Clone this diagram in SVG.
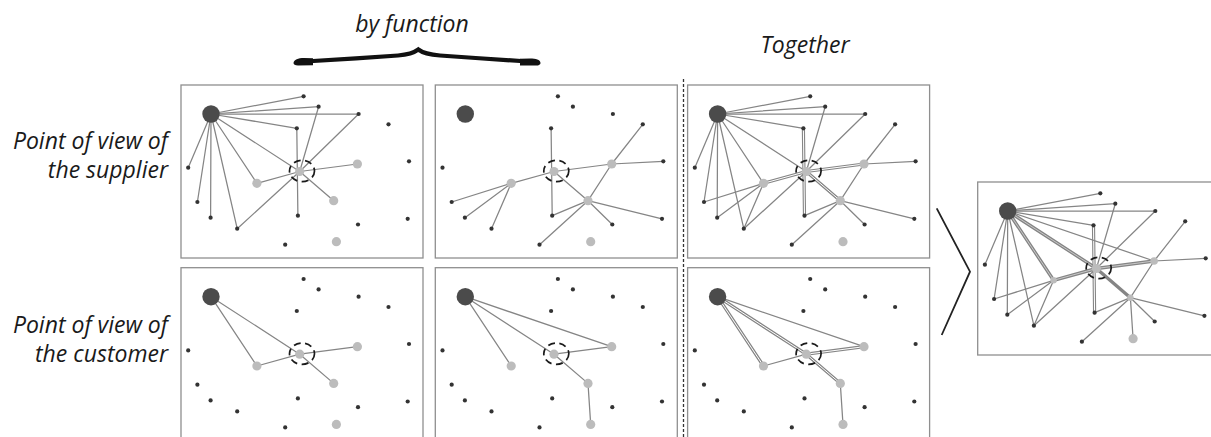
<svg xmlns="http://www.w3.org/2000/svg" width="1211" height="437" viewBox="0 0 1211 437">
<style>
.frame{fill:#fff;stroke:#8f8f8f;stroke-width:1.3}
.edges line{stroke:#858585;stroke-width:1.25;stroke-linecap:round}
.edges .dbl line{stroke:#858585;stroke-width:3.2}
.edges .dblw line{stroke:#fff;stroke-width:1}
.edges .thk line{stroke:#858585;stroke-width:3.4}
.edges .thkw line{stroke:#c8c8c8;stroke-width:1}
.big{fill:#4b4b4b}
.dot{fill:#333}
.lit{fill:#bcbcbc}
.ring{fill:none;stroke:#1a1a1a;stroke-width:1.7;stroke-dasharray:7 4.5}
.lbl{font-family:"Open Sans","Liberation Sans",sans-serif;font-style:italic;font-size:23px;fill:#1a1a1a}
.chev{fill:none;stroke:#222;stroke-width:1.8}
</style>
<rect width="1211" height="437" fill="#fff"/>

<g id="labels">
<text class="lbl" x="412" y="32" text-anchor="middle">by function</text>
<text class="lbl" x="805" y="53" text-anchor="middle">Together</text>
<text class="lbl" x="168" y="149" text-anchor="end">Point of view of</text>
<text class="lbl" x="168" y="178" text-anchor="end">the supplier</text>
<text class="lbl" x="168" y="332.5" text-anchor="end">Point of view of</text>
<text class="lbl" x="168" y="362" text-anchor="end">the customer</text>
</g>

<g id="brace">
<path d="M305,61.5 C330,60 370,57.5 398,55.5 C410,54.5 415,52 418.3,49.5 C421.5,52 427,54.5 440,55.5 C468,57.5 505,60 528,61.5" fill="none" stroke="#111" stroke-width="4.2" stroke-linecap="round"/>
<path d="M293.5,63 C294,59.5 298,58 304,58 L313,58.3 L313,65.3 L298,65.5 C295,65.5 293.5,64.5 293.5,63 Z" fill="#111"/>
<path d="M540.5,63 C540,59.5 536,58.5 530,58.5 L520,58.8 L520,65.5 L536,65.6 C539,65.6 540.5,64.5 540.5,63 Z" fill="#111"/>
</g>

<line id="divider" x1="683.5" y1="79" x2="683.5" y2="437" stroke="#333" stroke-width="1.3" stroke-dasharray="3 2"/>
<polyline id="chevron" class="chev" points="936.7,208.3 970,271.7 941.7,335"/>

<!-- Panel A: supplier, function 1 -->
<g id="panel-A">
<rect class="frame" x="181" y="85" width="242" height="173"/>
<g id="A-edges" class="edges">
<line x1="211" y1="114" x2="303.6" y2="96.3"/>
<line x1="211" y1="114" x2="318.6" y2="106.7"/>
<line x1="211" y1="114" x2="358.6" y2="114"/>
<line x1="211" y1="114" x2="296.8" y2="128.3"/>
<line x1="211" y1="114" x2="188.2" y2="167.7"/>
<line x1="211" y1="114" x2="197.4" y2="202"/>
<line x1="211" y1="114" x2="210.6" y2="217.7"/>
<line x1="211" y1="114" x2="237.2" y2="228.7"/>
<line x1="211" y1="114" x2="256.9" y2="183.3"/>
<line x1="211" y1="114" x2="299.7" y2="171.5"/>
<line x1="296.8" y1="128.3" x2="297.9" y2="215.7"/>
<line x1="318.6" y1="106.7" x2="299.7" y2="171.5"/>
<line x1="358.6" y1="114" x2="299.7" y2="171.5"/>
<line x1="299.7" y1="171.5" x2="357.4" y2="164"/>
<line x1="299.7" y1="171.5" x2="256.9" y2="183.3"/>
<line x1="299.7" y1="171.5" x2="333.7" y2="200.7"/>
<line x1="299.7" y1="171.5" x2="237.2" y2="228.7"/>
</g>
<g id="A-nodes">
<g id="A-D0"><circle class="big" cx="211" cy="114" r="8.7"/></g>
<g id="A-n1"><circle class="dot" cx="303.6" cy="96.3" r="2.1"/></g>
<g id="A-n2"><circle class="dot" cx="318.6" cy="106.7" r="2.1"/></g>
<g id="A-n3"><circle class="dot" cx="358.6" cy="114" r="2.1"/></g>
<g id="A-n4"><circle class="dot" cx="388.5" cy="124.3" r="2.1"/></g>
<g id="A-n5"><circle class="dot" cx="296.8" cy="128.3" r="2.1"/></g>
<g id="A-n6"><circle class="dot" cx="188.2" cy="167.7" r="2.1"/></g>
<g id="A-n7"><circle class="dot" cx="409" cy="161.3" r="2.1"/></g>
<g id="A-n8"><circle class="dot" cx="197.4" cy="202" r="2.1"/></g>
<g id="A-n9"><circle class="dot" cx="210.6" cy="217.7" r="2.1"/></g>
<g id="A-n10"><circle class="dot" cx="237.2" cy="228.7" r="2.1"/></g>
<g id="A-n11"><circle class="dot" cx="297.9" cy="215.7" r="2.1"/></g>
<g id="A-n12"><circle class="dot" cx="358" cy="224.5" r="2.1"/></g>
<g id="A-n13"><circle class="dot" cx="407.7" cy="218.8" r="2.1"/></g>
<g id="A-n14"><circle class="dot" cx="285.2" cy="244.7" r="2.1"/></g>
<g id="A-L1"><circle class="lit" cx="256.9" cy="183.3" r="4.6"/></g>
<g id="A-L2"><circle class="lit" cx="357.4" cy="164" r="4.6"/></g>
<g id="A-L3"><circle class="lit" cx="333.7" cy="200.7" r="4.6"/></g>
<g id="A-L4"><circle class="lit" cx="336.4" cy="241.7" r="4.6"/></g>
<g id="A-C"><circle class="lit" cx="299.7" cy="171.5" r="4.6"/><ellipse class="ring" cx="302" cy="171" rx="12.5" ry="10.7"/></g>
</g>
</g>

<!-- Panel B: supplier, function 2 -->
<g id="panel-B" transform="translate(254.3,0)">
<rect class="frame" x="181" y="85" width="242" height="173"/>
<g id="B-edges" class="edges">
<line x1="296.8" y1="128.3" x2="297.9" y2="215.7"/>
<line x1="297.9" y1="215.7" x2="333.7" y2="200.7"/>
<line x1="197.4" y1="202" x2="256.9" y2="183.3"/>
<line x1="256.9" y1="183.3" x2="299.7" y2="171.5"/>
<line x1="256.9" y1="183.3" x2="210.6" y2="217.7"/>
<line x1="256.9" y1="183.3" x2="237.2" y2="228.7"/>
<line x1="299.7" y1="171.5" x2="357.4" y2="164"/>
<line x1="357.4" y1="164" x2="409" y2="161.3"/>
<line x1="388.5" y1="124.3" x2="357.4" y2="164"/>
<line x1="357.4" y1="164" x2="333.7" y2="200.7"/>
<line x1="333.7" y1="200.7" x2="285.2" y2="244.7"/>
<line x1="299.7" y1="171.5" x2="333.7" y2="200.7"/>
<line x1="333.7" y1="200.7" x2="358" y2="224.5"/>
<line x1="333.7" y1="200.7" x2="407.7" y2="218.8"/>
</g>
<g id="B-nodes">
<g id="B-D0"><circle class="big" cx="211" cy="114" r="8.7"/></g>
<g id="B-n1"><circle class="dot" cx="303.6" cy="96.3" r="2.1"/></g>
<g id="B-n2"><circle class="dot" cx="318.6" cy="106.7" r="2.1"/></g>
<g id="B-n3"><circle class="dot" cx="358.6" cy="114" r="2.1"/></g>
<g id="B-n4"><circle class="dot" cx="388.5" cy="124.3" r="2.1"/></g>
<g id="B-n5"><circle class="dot" cx="296.8" cy="128.3" r="2.1"/></g>
<g id="B-n6"><circle class="dot" cx="188.2" cy="167.7" r="2.1"/></g>
<g id="B-n7"><circle class="dot" cx="409" cy="161.3" r="2.1"/></g>
<g id="B-n8"><circle class="dot" cx="197.4" cy="202" r="2.1"/></g>
<g id="B-n9"><circle class="dot" cx="210.6" cy="217.7" r="2.1"/></g>
<g id="B-n10"><circle class="dot" cx="237.2" cy="228.7" r="2.1"/></g>
<g id="B-n11"><circle class="dot" cx="297.9" cy="215.7" r="2.1"/></g>
<g id="B-n12"><circle class="dot" cx="358" cy="224.5" r="2.1"/></g>
<g id="B-n13"><circle class="dot" cx="407.7" cy="218.8" r="2.1"/></g>
<g id="B-n14"><circle class="dot" cx="285.2" cy="244.7" r="2.1"/></g>
<g id="B-L1"><circle class="lit" cx="256.9" cy="183.3" r="4.6"/></g>
<g id="B-L2"><circle class="lit" cx="357.4" cy="164" r="4.6"/></g>
<g id="B-L3"><circle class="lit" cx="333.7" cy="200.7" r="4.6"/></g>
<g id="B-L4"><circle class="lit" cx="336.4" cy="241.7" r="4.6"/></g>
<g id="B-C"><circle class="lit" cx="299.7" cy="171.5" r="4.6"/><ellipse class="ring" cx="302" cy="171" rx="12.5" ry="10.7"/></g>
</g>
</g>

<!-- Panel C: supplier, together -->
<g id="panel-C" transform="translate(506.6,0)">
<rect class="frame" x="181" y="85" width="242" height="173"/>
<g id="C-edges" class="edges">
<g class="dbl">
<line x1="296.8" y1="128.3" x2="297.9" y2="215.7"/>
<line x1="299.7" y1="171.5" x2="357.4" y2="164"/>
<line x1="299.7" y1="171.5" x2="256.9" y2="183.3"/>
<line x1="299.7" y1="171.5" x2="333.7" y2="200.7"/>
</g>
<g class="dblw">
<line x1="296.8" y1="128.3" x2="297.9" y2="215.7"/>
<line x1="299.7" y1="171.5" x2="357.4" y2="164"/>
<line x1="299.7" y1="171.5" x2="256.9" y2="183.3"/>
<line x1="299.7" y1="171.5" x2="333.7" y2="200.7"/>
</g>
<line x1="211" y1="114" x2="303.6" y2="96.3"/>
<line x1="211" y1="114" x2="318.6" y2="106.7"/>
<line x1="211" y1="114" x2="358.6" y2="114"/>
<line x1="211" y1="114" x2="296.8" y2="128.3"/>
<line x1="211" y1="114" x2="188.2" y2="167.7"/>
<line x1="211" y1="114" x2="197.4" y2="202"/>
<line x1="211" y1="114" x2="210.6" y2="217.7"/>
<line x1="211" y1="114" x2="237.2" y2="228.7"/>
<line x1="211" y1="114" x2="256.9" y2="183.3"/>
<line x1="211" y1="114" x2="299.7" y2="171.5"/>
<line x1="318.6" y1="106.7" x2="299.7" y2="171.5"/>
<line x1="358.6" y1="114" x2="299.7" y2="171.5"/>
<line x1="299.7" y1="171.5" x2="237.2" y2="228.7"/>
<line x1="297.9" y1="215.7" x2="333.7" y2="200.7"/>
<line x1="197.4" y1="202" x2="256.9" y2="183.3"/>
<line x1="256.9" y1="183.3" x2="210.6" y2="217.7"/>
<line x1="256.9" y1="183.3" x2="237.2" y2="228.7"/>
<line x1="357.4" y1="164" x2="409" y2="161.3"/>
<line x1="388.5" y1="124.3" x2="357.4" y2="164"/>
<line x1="357.4" y1="164" x2="333.7" y2="200.7"/>
<line x1="333.7" y1="200.7" x2="285.2" y2="244.7"/>
<line x1="333.7" y1="200.7" x2="358" y2="224.5"/>
<line x1="333.7" y1="200.7" x2="407.7" y2="218.8"/>
</g>
<g id="C-nodes">
<g id="C-D0"><circle class="big" cx="211" cy="114" r="8.7"/></g>
<g id="C-n1"><circle class="dot" cx="303.6" cy="96.3" r="2.1"/></g>
<g id="C-n2"><circle class="dot" cx="318.6" cy="106.7" r="2.1"/></g>
<g id="C-n3"><circle class="dot" cx="358.6" cy="114" r="2.1"/></g>
<g id="C-n4"><circle class="dot" cx="388.5" cy="124.3" r="2.1"/></g>
<g id="C-n5"><circle class="dot" cx="296.8" cy="128.3" r="2.1"/></g>
<g id="C-n6"><circle class="dot" cx="188.2" cy="167.7" r="2.1"/></g>
<g id="C-n7"><circle class="dot" cx="409" cy="161.3" r="2.1"/></g>
<g id="C-n8"><circle class="dot" cx="197.4" cy="202" r="2.1"/></g>
<g id="C-n9"><circle class="dot" cx="210.6" cy="217.7" r="2.1"/></g>
<g id="C-n10"><circle class="dot" cx="237.2" cy="228.7" r="2.1"/></g>
<g id="C-n11"><circle class="dot" cx="297.9" cy="215.7" r="2.1"/></g>
<g id="C-n12"><circle class="dot" cx="358" cy="224.5" r="2.1"/></g>
<g id="C-n13"><circle class="dot" cx="407.7" cy="218.8" r="2.1"/></g>
<g id="C-n14"><circle class="dot" cx="285.2" cy="244.7" r="2.1"/></g>
<g id="C-L1"><circle class="lit" cx="256.9" cy="183.3" r="4.6"/></g>
<g id="C-L2"><circle class="lit" cx="357.4" cy="164" r="4.6"/></g>
<g id="C-L3"><circle class="lit" cx="333.7" cy="200.7" r="4.6"/></g>
<g id="C-L4"><circle class="lit" cx="336.4" cy="241.7" r="4.6"/></g>
<g id="C-C"><circle class="lit" cx="299.7" cy="171.5" r="4.6"/><ellipse class="ring" cx="302" cy="171" rx="12.5" ry="10.7"/></g>
</g>
</g>

<!-- Panel D: customer, function 1 -->
<g id="panel-D" transform="translate(0,182.7)">
<rect class="frame" x="181" y="85" width="242" height="173"/>
<g id="D-edges" class="edges">
<line x1="211" y1="114" x2="256.9" y2="183.3"/>
<line x1="211" y1="114" x2="299.7" y2="171.5"/>
<line x1="256.9" y1="183.3" x2="299.7" y2="171.5"/>
<line x1="299.7" y1="171.5" x2="357.4" y2="164"/>
<line x1="299.7" y1="171.5" x2="333.7" y2="200.7"/>
</g>
<g id="D-nodes">
<g id="D-D0"><circle class="big" cx="211" cy="114" r="8.7"/></g>
<g id="D-n1"><circle class="dot" cx="303.6" cy="96.3" r="2.1"/></g>
<g id="D-n2"><circle class="dot" cx="318.6" cy="106.7" r="2.1"/></g>
<g id="D-n3"><circle class="dot" cx="358.6" cy="114" r="2.1"/></g>
<g id="D-n4"><circle class="dot" cx="388.5" cy="124.3" r="2.1"/></g>
<g id="D-n5"><circle class="dot" cx="296.8" cy="128.3" r="2.1"/></g>
<g id="D-n6"><circle class="dot" cx="188.2" cy="167.7" r="2.1"/></g>
<g id="D-n7"><circle class="dot" cx="409" cy="161.3" r="2.1"/></g>
<g id="D-n8"><circle class="dot" cx="197.4" cy="202" r="2.1"/></g>
<g id="D-n9"><circle class="dot" cx="210.6" cy="217.7" r="2.1"/></g>
<g id="D-n10"><circle class="dot" cx="237.2" cy="228.7" r="2.1"/></g>
<g id="D-n11"><circle class="dot" cx="297.9" cy="215.7" r="2.1"/></g>
<g id="D-n12"><circle class="dot" cx="358" cy="224.5" r="2.1"/></g>
<g id="D-n13"><circle class="dot" cx="407.7" cy="218.8" r="2.1"/></g>
<g id="D-n14"><circle class="dot" cx="285.2" cy="244.7" r="2.1"/></g>
<g id="D-L1"><circle class="lit" cx="256.9" cy="183.3" r="4.6"/></g>
<g id="D-L2"><circle class="lit" cx="357.4" cy="164" r="4.6"/></g>
<g id="D-L3"><circle class="lit" cx="333.7" cy="200.7" r="4.6"/></g>
<g id="D-L4"><circle class="lit" cx="336.4" cy="241.7" r="4.6"/></g>
<g id="D-C"><circle class="lit" cx="299.7" cy="171.5" r="4.6"/><ellipse class="ring" cx="302" cy="171" rx="12.5" ry="10.7"/></g>
</g>
</g>

<!-- Panel E: customer, function 2 -->
<g id="panel-E" transform="translate(254.3,182.7)">
<rect class="frame" x="181" y="85" width="242" height="173"/>
<g id="E-edges" class="edges">
<line x1="211" y1="114" x2="256.9" y2="183.3"/>
<line x1="211" y1="114" x2="299.7" y2="171.5"/>
<line x1="299.7" y1="171.5" x2="333.7" y2="200.7"/>
<line x1="211" y1="114" x2="357.4" y2="164"/>
<line x1="299.7" y1="171.5" x2="357.4" y2="164"/>
<line x1="333.7" y1="200.7" x2="336.4" y2="241.7"/>
</g>
<g id="E-nodes">
<g id="E-D0"><circle class="big" cx="211" cy="114" r="8.7"/></g>
<g id="E-n1"><circle class="dot" cx="303.6" cy="96.3" r="2.1"/></g>
<g id="E-n2"><circle class="dot" cx="318.6" cy="106.7" r="2.1"/></g>
<g id="E-n3"><circle class="dot" cx="358.6" cy="114" r="2.1"/></g>
<g id="E-n4"><circle class="dot" cx="388.5" cy="124.3" r="2.1"/></g>
<g id="E-n5"><circle class="dot" cx="296.8" cy="128.3" r="2.1"/></g>
<g id="E-n6"><circle class="dot" cx="188.2" cy="167.7" r="2.1"/></g>
<g id="E-n7"><circle class="dot" cx="409" cy="161.3" r="2.1"/></g>
<g id="E-n8"><circle class="dot" cx="197.4" cy="202" r="2.1"/></g>
<g id="E-n9"><circle class="dot" cx="210.6" cy="217.7" r="2.1"/></g>
<g id="E-n10"><circle class="dot" cx="237.2" cy="228.7" r="2.1"/></g>
<g id="E-n11"><circle class="dot" cx="297.9" cy="215.7" r="2.1"/></g>
<g id="E-n12"><circle class="dot" cx="358" cy="224.5" r="2.1"/></g>
<g id="E-n13"><circle class="dot" cx="407.7" cy="218.8" r="2.1"/></g>
<g id="E-n14"><circle class="dot" cx="285.2" cy="244.7" r="2.1"/></g>
<g id="E-L1"><circle class="lit" cx="256.9" cy="183.3" r="4.6"/></g>
<g id="E-L2"><circle class="lit" cx="357.4" cy="164" r="4.6"/></g>
<g id="E-L3"><circle class="lit" cx="333.7" cy="200.7" r="4.6"/></g>
<g id="E-L4"><circle class="lit" cx="336.4" cy="241.7" r="4.6"/></g>
<g id="E-C"><circle class="lit" cx="299.7" cy="171.5" r="4.6"/><ellipse class="ring" cx="302" cy="171" rx="12.5" ry="10.7"/></g>
</g>
</g>

<!-- Panel F: customer, together -->
<g id="panel-F" transform="translate(506.6,182.7)">
<rect class="frame" x="181" y="85" width="242" height="173"/>
<g id="F-edges" class="edges">
<g class="dbl">
<line x1="211" y1="114" x2="256.9" y2="183.3"/>
<line x1="211" y1="114" x2="299.7" y2="171.5"/>
<line x1="299.7" y1="171.5" x2="357.4" y2="164"/>
<line x1="299.7" y1="171.5" x2="333.7" y2="200.7"/>
</g>
<g class="dblw">
<line x1="211" y1="114" x2="256.9" y2="183.3"/>
<line x1="211" y1="114" x2="299.7" y2="171.5"/>
<line x1="299.7" y1="171.5" x2="357.4" y2="164"/>
<line x1="299.7" y1="171.5" x2="333.7" y2="200.7"/>
</g>
<line x1="256.9" y1="183.3" x2="299.7" y2="171.5"/>
<line x1="211" y1="114" x2="357.4" y2="164"/>
<line x1="333.7" y1="200.7" x2="336.4" y2="241.7"/>
</g>
<g id="F-nodes">
<g id="F-D0"><circle class="big" cx="211" cy="114" r="8.7"/></g>
<g id="F-n1"><circle class="dot" cx="303.6" cy="96.3" r="2.1"/></g>
<g id="F-n2"><circle class="dot" cx="318.6" cy="106.7" r="2.1"/></g>
<g id="F-n3"><circle class="dot" cx="358.6" cy="114" r="2.1"/></g>
<g id="F-n4"><circle class="dot" cx="388.5" cy="124.3" r="2.1"/></g>
<g id="F-n5"><circle class="dot" cx="296.8" cy="128.3" r="2.1"/></g>
<g id="F-n6"><circle class="dot" cx="188.2" cy="167.7" r="2.1"/></g>
<g id="F-n7"><circle class="dot" cx="409" cy="161.3" r="2.1"/></g>
<g id="F-n8"><circle class="dot" cx="197.4" cy="202" r="2.1"/></g>
<g id="F-n9"><circle class="dot" cx="210.6" cy="217.7" r="2.1"/></g>
<g id="F-n10"><circle class="dot" cx="237.2" cy="228.7" r="2.1"/></g>
<g id="F-n11"><circle class="dot" cx="297.9" cy="215.7" r="2.1"/></g>
<g id="F-n12"><circle class="dot" cx="358" cy="224.5" r="2.1"/></g>
<g id="F-n13"><circle class="dot" cx="407.7" cy="218.8" r="2.1"/></g>
<g id="F-n14"><circle class="dot" cx="285.2" cy="244.7" r="2.1"/></g>
<g id="F-L1"><circle class="lit" cx="256.9" cy="183.3" r="4.6"/></g>
<g id="F-L2"><circle class="lit" cx="357.4" cy="164" r="4.6"/></g>
<g id="F-L3"><circle class="lit" cx="333.7" cy="200.7" r="4.6"/></g>
<g id="F-L4"><circle class="lit" cx="336.4" cy="241.7" r="4.6"/></g>
<g id="F-C"><circle class="lit" cx="299.7" cy="171.5" r="4.6"/><ellipse class="ring" cx="302" cy="171" rx="12.5" ry="10.7"/></g>
</g>
</g>

<!-- Panel G: overall result -->
<g id="panel-G" transform="translate(796.7,97)">
<rect class="frame" x="181" y="85" width="242" height="173"/>
<g id="G-edges" class="edges">
<g class="thk">
<line x1="211" y1="114" x2="256.9" y2="183.3"/>
<line x1="211" y1="114" x2="299.7" y2="171.5"/>
<line x1="299.7" y1="171.5" x2="256.9" y2="183.3"/>
<line x1="299.7" y1="171.5" x2="357.4" y2="164"/>
<line x1="299.7" y1="171.5" x2="333.7" y2="200.7"/>
</g>
<g class="thkw">
<line x1="211" y1="114" x2="256.9" y2="183.3"/>
<line x1="211" y1="114" x2="299.7" y2="171.5"/>
<line x1="299.7" y1="171.5" x2="256.9" y2="183.3"/>
<line x1="299.7" y1="171.5" x2="357.4" y2="164"/>
</g>
<g class="dbl">
<line x1="296.8" y1="128.3" x2="297.9" y2="215.7"/>
</g>
<g class="dblw">
<line x1="296.8" y1="128.3" x2="297.9" y2="215.7"/>
</g>
<line x1="211" y1="114" x2="303.6" y2="96.3"/>
<line x1="211" y1="114" x2="318.6" y2="106.7"/>
<line x1="211" y1="114" x2="358.6" y2="114"/>
<line x1="211" y1="114" x2="296.8" y2="128.3"/>
<line x1="211" y1="114" x2="188.2" y2="167.7"/>
<line x1="211" y1="114" x2="197.4" y2="202"/>
<line x1="211" y1="114" x2="210.6" y2="217.7"/>
<line x1="211" y1="114" x2="237.2" y2="228.7"/>
<line x1="211" y1="114" x2="357.4" y2="164"/>
<line x1="318.6" y1="106.7" x2="299.7" y2="171.5"/>
<line x1="358.6" y1="114" x2="299.7" y2="171.5"/>
<line x1="299.7" y1="171.5" x2="237.2" y2="228.7"/>
<line x1="297.9" y1="215.7" x2="333.7" y2="200.7"/>
<line x1="197.4" y1="202" x2="256.9" y2="183.3"/>
<line x1="256.9" y1="183.3" x2="210.6" y2="217.7"/>
<line x1="256.9" y1="183.3" x2="237.2" y2="228.7"/>
<line x1="357.4" y1="164" x2="409" y2="161.3"/>
<line x1="388.5" y1="124.3" x2="357.4" y2="164"/>
<line x1="357.4" y1="164" x2="333.7" y2="200.7"/>
<line x1="333.7" y1="200.7" x2="285.2" y2="244.7"/>
<line x1="333.7" y1="200.7" x2="358" y2="224.5"/>
<line x1="333.7" y1="200.7" x2="407.7" y2="218.8"/>
<line x1="333.7" y1="200.7" x2="336.4" y2="241.7"/>
</g>
<g id="G-nodes">
<g id="G-D0"><circle class="big" cx="211" cy="114" r="8.7"/></g>
<g id="G-n1"><circle class="dot" cx="303.6" cy="96.3" r="2.1"/></g>
<g id="G-n2"><circle class="dot" cx="318.6" cy="106.7" r="2.1"/></g>
<g id="G-n3"><circle class="dot" cx="358.6" cy="114" r="2.1"/></g>
<g id="G-n4"><circle class="dot" cx="388.5" cy="124.3" r="2.1"/></g>
<g id="G-n5"><circle class="dot" cx="296.8" cy="128.3" r="2.1"/></g>
<g id="G-n6"><circle class="dot" cx="188.2" cy="167.7" r="2.1"/></g>
<g id="G-n7"><circle class="dot" cx="409" cy="161.3" r="2.1"/></g>
<g id="G-n8"><circle class="dot" cx="197.4" cy="202" r="2.1"/></g>
<g id="G-n9"><circle class="dot" cx="210.6" cy="217.7" r="2.1"/></g>
<g id="G-n10"><circle class="dot" cx="237.2" cy="228.7" r="2.1"/></g>
<g id="G-n11"><circle class="dot" cx="297.9" cy="215.7" r="2.1"/></g>
<g id="G-n12"><circle class="dot" cx="358" cy="224.5" r="2.1"/></g>
<g id="G-n13"><circle class="dot" cx="407.7" cy="218.8" r="2.1"/></g>
<g id="G-n14"><circle class="dot" cx="285.2" cy="244.7" r="2.1"/></g>
<g id="G-L1"><circle class="lit" cx="256.9" cy="183.3" r="3.2"/></g>
<g id="G-L2"><circle class="lit" cx="357.4" cy="164" r="3.8"/></g>
<g id="G-L3"><circle class="lit" cx="333.7" cy="200.7" r="3.2"/></g>
<g id="G-L4"><circle class="lit" cx="336.4" cy="241.7" r="4.6"/></g>
<g id="G-C"><circle class="lit" cx="299.7" cy="171.5" r="4.6"/><ellipse class="ring" cx="302" cy="171" rx="12.5" ry="10.7"/></g>
</g>
</g>
</svg>
